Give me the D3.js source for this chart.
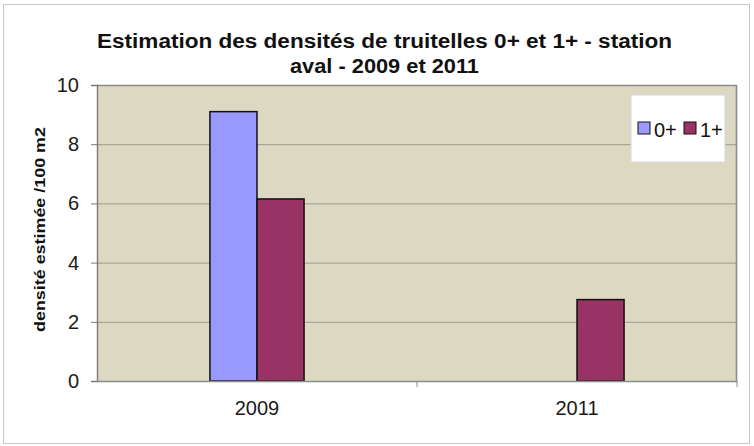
<!DOCTYPE html>
<html>
<head>
<meta charset="utf-8">
<script src="https://cdn.jsdelivr.net/npm/d3@7"></script>
<style>
  body { margin: 0; background: #fff; }
  svg { display: block; font-family: "Liberation Sans", Arial, sans-serif; }
</style>
</head>
<body>
<div id="chart"></div>
<script>
const years = ['2009', '2011'];
const seriesNames = ['0+', '1+'];
const values0 = [9.1, 0];
const values1 = [6.15, 2.75];
const yTicks = [0, 2, 4, 6, 8, 10];
const seriesColors = ['#9999ff', '#993366'];

const W = 754, H = 446;
const plot = { left: 97, right: 737, top: 85, bottom: 381 };

const svg = d3.select('#chart')
  .append('svg')
  .attr('width', W)
  .attr('height', H);

// outer frame
svg.append('rect')
  .attr('x', 3.5).attr('y', 4.5)
  .attr('width', 746).attr('height', 439)
  .attr('fill', '#fff')
  .attr('stroke', '#c8c8c8');

const x0 = d3.scaleBand()
  .domain(years)
  .range([plot.left, plot.right])
  .padding(0);

const x1 = d3.scaleBand()
  .domain(seriesNames)
  .range([0, x0.bandwidth()])
  .paddingInner(0)
  .paddingOuter(2.4);

const y = d3.scaleLinear()
  .domain([0, 10])
  .range([plot.bottom, plot.top]);

// plot background
svg.append('rect')
  .attr('x', plot.left).attr('y', plot.top)
  .attr('width', plot.right - plot.left)
  .attr('height', plot.bottom - plot.top)
  .attr('fill', '#dcd8c2');

// gridlines
svg.append('g')
  .selectAll('line')
  .data(yTicks.filter(d => d > 0 && d < 10))
  .enter()
  .append('line')
  .attr('x1', plot.left).attr('x2', plot.right)
  .attr('y1', d => y(d) + 0.5).attr('y2', d => y(d) + 0.5)
  .attr('stroke', '#a9a795')
  .attr('stroke-width', 1.2);

// plot border (top/right)
svg.append('path')
  .attr('d', `M${plot.left},${plot.top + 0.5}H${plot.right - 0.5}V${plot.bottom}`)
  .attr('fill', 'none')
  .attr('stroke', '#8c8c8c')
  .attr('stroke-width', 1.6);

// bars
const rows = years.map((yr, i) => ({ year: yr, vals: [values0[i], values1[i]] }));

const groups = svg.selectAll('.grp')
  .data(rows)
  .enter()
  .append('g')
  .attr('transform', d => `translate(${x0(d.year)},0)`);

groups.selectAll('rect')
  .data(d => d.vals.map((v, j) => ({ key: seriesNames[j], v: v, c: seriesColors[j] })).filter(e => e.v > 0))
  .enter()
  .append('rect')
  .attr('x', d => x1(d.key))
  .attr('width', x1.bandwidth())
  .attr('y', d => y(d.v))
  .attr('height', d => y(0) - y(d.v))
  .attr('fill', d => d.c)
  .attr('stroke', '#111')
  .attr('stroke-width', 1.5);

// y axis
const yAxis = svg.append('g')
  .attr('transform', `translate(${plot.left},0)`)
  .call(d3.axisLeft(y).tickValues(yTicks).tickSize(6).tickPadding(12).tickFormat(d3.format('d')));
yAxis.select('.domain').attr('stroke', '#7a7a7a').attr('stroke-width', 1.4);
yAxis.selectAll('.tick line').attr('stroke', '#7a7a7a');
yAxis.selectAll('.tick text')
  .attr('font-size', '20px')
  .attr('fill', '#1a1a1a')
  .attr('font-family', '"Liberation Sans", Arial, sans-serif');

// x axis
const xAxis = svg.append('g')
  .attr('transform', `translate(0,${plot.bottom})`)
  .call(d3.axisBottom(x0).tickSize(0).tickPadding(20));
xAxis.select('.domain').attr('stroke', '#8c8c8c').attr('stroke-width', 1.4);
xAxis.selectAll('.tick text')
  .attr('font-size', '20px')
  .attr('fill', '#1a1a1a')
  .attr('font-family', '"Liberation Sans", Arial, sans-serif');
// category separators
svg.append('g')
  .selectAll('line')
  .data([x0.domain()[0], x0.domain()[1]])
  .enter()
  .append('line')
  .attr('x1', d => x0(d) + x0.bandwidth()).attr('x2', d => x0(d) + x0.bandwidth())
  .attr('y1', plot.bottom).attr('y2', plot.bottom + 6)
  .attr('stroke', '#8c8c8c');

// title
const title = svg.append('g')
  .attr('font-size', '20px')
  .attr('font-weight', 'bold')
  .attr('fill', '#111');
title.append('text').attr('x', 97).attr('y', 48)
  .attr('textLength', 575).attr('lengthAdjust', 'spacingAndGlyphs')
  .text('Estimation des densités de truitelles 0+ et 1+ - station');
title.append('text').attr('x', 290).attr('y', 73)
  .attr('textLength', 189).attr('lengthAdjust', 'spacingAndGlyphs')
  .text('aval - 2009 et 2011');

// y label
svg.append('text')
  .attr('transform', `translate(45,332) rotate(-90)`)
  .attr('font-size', '14px')
  .attr('font-weight', 'bold')
  .attr('fill', '#111')
  .attr('textLength', 205).attr('lengthAdjust', 'spacingAndGlyphs')
  .text('densité estimée /100 m2');

// legend
const lg = svg.append('g').attr('transform', 'translate(631,95)');
lg.append('rect')
  .attr('width', 94).attr('height', 67)
  .attr('fill', '#fff')
  .attr('stroke', '#d8d8d8');
const items = lg.selectAll('.item')
  .data(seriesNames)
  .enter()
  .append('g')
  .attr('transform', (d, i) => `translate(${7 + i * 46},27)`);
items.append('rect')
  .attr('width', 12).attr('height', 12)
  .attr('fill', (d, i) => seriesColors[i])
  .attr('stroke', '#111');
items.append('text')
  .attr('x', 16).attr('y', 15)
  .attr('font-size', '20px')
  .attr('fill', '#111')
  .text(d => d);
</script>
</body>
</html>
